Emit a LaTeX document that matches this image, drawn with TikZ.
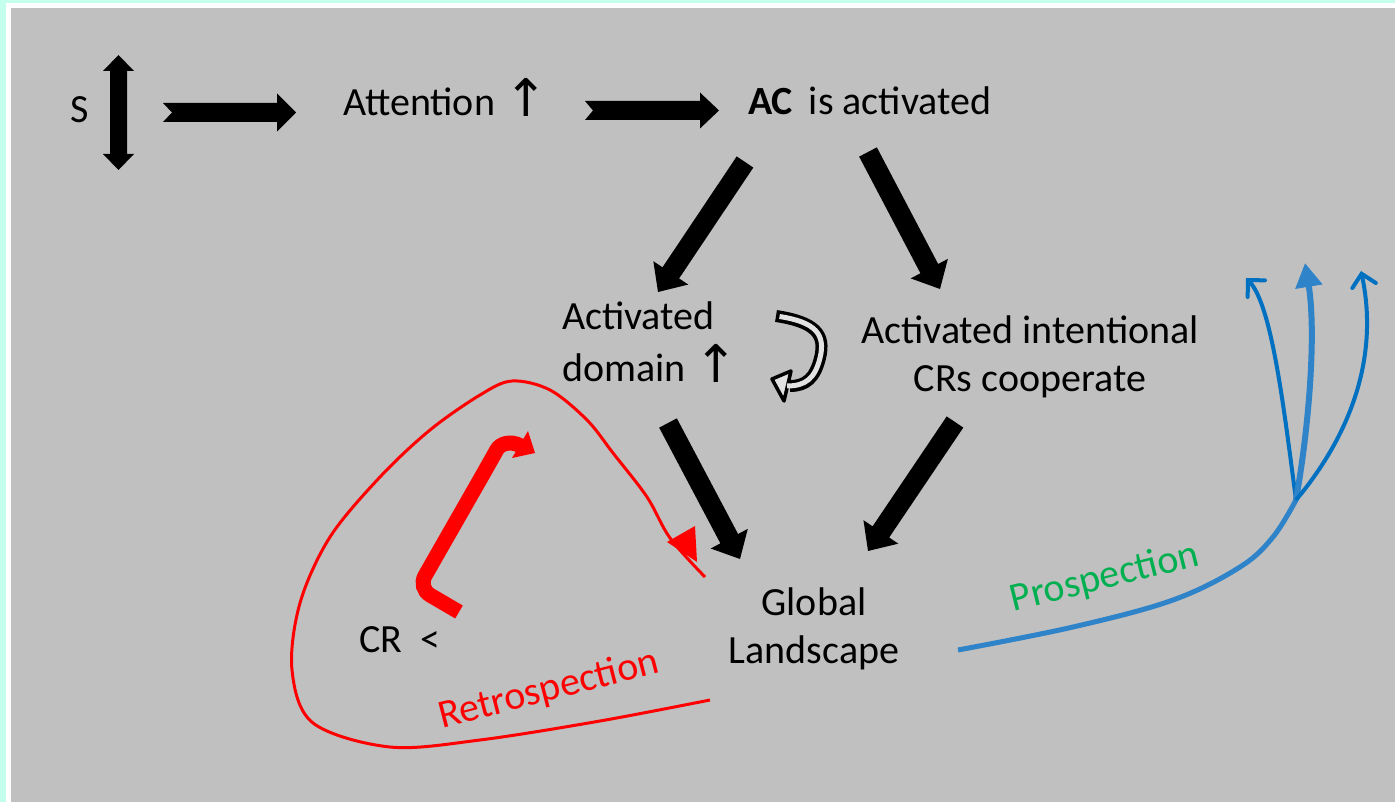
\documentclass[tikz,border=0pt]{standalone}
\usepackage{fontspec}
\setmainfont{Carlito}
\newfontfamily\symfont{DejaVu Sans}
\usetikzlibrary{arrows.meta,calc}
\definecolor{bgc}{HTML}{C0C0C0}
\definecolor{framec}{HTML}{C4FFEE}
\definecolor{redc}{HTML}{FF0000}
\definecolor{greenc}{HTML}{00B050}
\definecolor{bluec}{HTML}{0070C0}
\definecolor{bluel}{HTML}{2E83C9}
\definecolor{uturnc}{HTML}{E2E2E2}
\newcommand\upar{\raisebox{-1pt}{\scalebox{1.3}{\symfont ↑}}}
% block arrow: #1 from, #2 to, #3 half shaft, #4 half head, #5 head length, #6 notch
\newcommand\blkarrow[6]{%
  \path let \p1=(#1), \p2=(#2) in \pgfextra{%
    \pgfmathsetmacro\tmpang{atan2(\y2-(\y1),\x2-(\x1))}\global\let\BAang\tmpang
    \pgfmathsetmacro\tmplen{veclen(\x2-(\x1),\y2-(\y1))}\global\let\BAlen\tmplen};
  \fill[black, shift={(#1)}, rotate=\BAang]
    (#6pt,0pt) -- (0pt,#3pt) -- (\BAlen pt-#5pt,#3pt) -- (\BAlen pt-#5pt,#4pt)
    -- (\BAlen pt,0pt) -- (\BAlen pt-#5pt,-#4pt) -- (\BAlen pt-#5pt,-#3pt)
    -- (0pt,-#3pt) -- cycle;}
\begin{document}
\begin{tikzpicture}[x=1pt,y=-1pt,
  lbl/.style={font=\fontsize{40}{48}\selectfont, inner sep=0pt, outer sep=0pt},
  thinred/.style={draw=redc, line width=3pt},
  blueline/.style={draw=bluec, line width=4pt},
  bluearrow/.style={blueline, -{Straight Barb[length=12pt,width=24pt,line cap=round]}}]
\useasboundingbox (0,0) rectangle (1395,802);
\fill[framec] (0,0) rectangle (1395,802);
\fill[white] (6,3) rectangle (1395,802);
\fill[bgc] (11,8) rectangle (1395,802);

% texts
\node[lbl, anchor=base] (S) at (79.5,123) {S};
\node[lbl, anchor=base west] (att) at (343,116) {Attention \upar};
\node[lbl, anchor=base west] (ac) at (748,115) {\textbf{AC}\hspace{7pt} is activated};
\node[lbl, anchor=base west] (dom) at (562,330) {\begin{tabular}[t]{@{}l@{}}Activated\\domain \upar\end{tabular}};
\node[lbl, anchor=base] (intent) at (1030,343) {\begin{tabular}[t]{@{}c@{}}Activated intentional\\CRs cooperate\end{tabular}};
\node[lbl, anchor=base] (glob) at (814,615) {\begin{tabular}[t]{@{}c@{}}Global\\Landscape\end{tabular}};
\node[lbl, anchor=base west] (cr) at (359,652) {CR\ \ <};
\node[lbl, text=redc, rotate=14.5] (retro) at (549,690) {Retrospection};
\node[lbl, text=greenc, rotate=14] (prosp) at (1105,578) {Prospection};

% vertical double arrow next to S
\fill[black] (118.5,55) -- (134,71) -- (127,71) -- (127,154) -- (134,154) -- (118.5,170)
  -- (103,154) -- (110,154) -- (110,71) -- (103,71) -- cycle;

% horizontal notched arrows
\coordinate (h1s) at (163,112.5); \coordinate (h1e) at (296,112.5);
\coordinate (h2s) at (585,110.5); \coordinate (h2e) at (719,110.5);
\blkarrow{h1s}{h1e}{9.5}{19}{19}{9}
\blkarrow{h2s}{h2e}{9.5}{18}{19}{8}

% diagonal block arrows
\coordinate (d1s) at (745,162); \coordinate (d1e) at (658,292);
\coordinate (d2s) at (868,152); \coordinate (d2e) at (940,289);
\coordinate (d3s) at (668,423); \coordinate (d3e) at (740,559);
\coordinate (d4s) at (955,422); \coordinate (d4e) at (868,551);
\blkarrow{d1s}{d1e}{10}{21}{23}{0}
\blkarrow{d2s}{d2e}{10}{21}{23}{0}
\blkarrow{d3s}{d3e}{10}{21}{23}{0}
\blkarrow{d4s}{d4e}{10}{21}{23}{0}

% U-turn arrow
\draw[black, line width=12pt] (776,316) .. controls (815,322) and (826,334) .. (820,358)
  .. controls (815,378) and (806,386) .. (790,386);
\filldraw[fill=uturnc, draw=black, line width=3.5pt, line join=round]
  (772,379) -- (791,371) -- (784,401) -- cycle;
\draw[uturnc, line width=5pt] (779.5,316.5) .. controls (815,322) and (826,334) .. (820,358)
  .. controls (815,378) and (806,386) .. (787,386);

% red thick bent arrow
\draw[redc, line width=15pt, rounded corners=14pt] (459,612) -- (418,588) -- (490,462)
  .. controls (500,444) and (510,440) .. (521,446);
\fill[redc] (535,453) -- (528,431) -- (512,458) -- cycle;

% red thin loop (retrospection)
\draw[thinred] plot[smooth, tension=0.55] coordinates {(710,700) (600,721) (480,740) (390,747)
  (313,723) (292,670) (300,603) (330,537) (380,477) (430,430) (480,395) (512,381) (550,390)
  (587,420) (613,453) (647,497) (670,538) (705,577)};
\fill[redc] (667,542) -- (695,526) -- (697,562) -- cycle;

% blue prospection curve
\coordinate (br) at (1296,500);
\draw[draw=bluel, line width=5pt] plot[smooth, tension=0.6] coordinates {(958,650) (1073,627)
  (1173,600) (1240,567) (1273,537) (br)};
\draw[bluearrow] (br) .. controls (1284,410) and (1272,305) .. (1246,278);
\draw[draw=bluel, line width=6pt, -{Triangle[length=24pt,width=26pt]}]
  (br) .. controls (1310,420) and (1316,330) .. (1305,263);
\draw[bluearrow] (br) .. controls (1348,438) and (1380,360) .. (1361,271);
\end{tikzpicture}
\end{document}
